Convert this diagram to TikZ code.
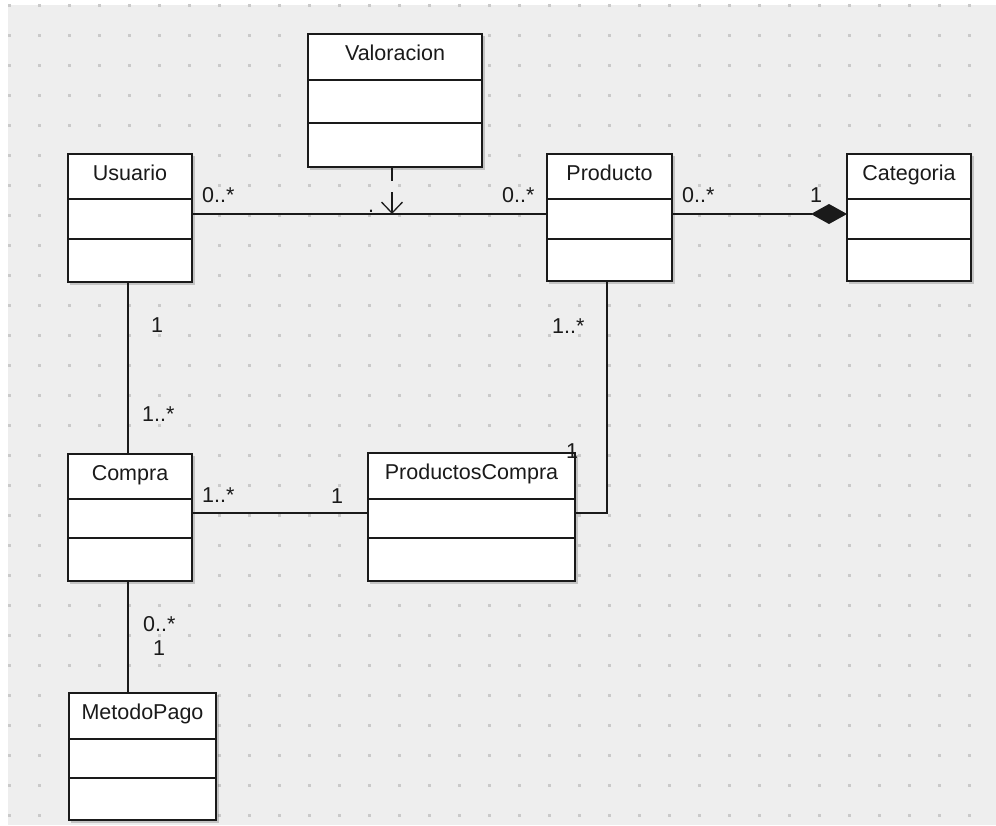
\documentclass[tikz,border=0pt]{standalone}
\usepackage{fontspec}
\setmainfont{Liberation Sans}
\usetikzlibrary{arrows.meta,calc}

\definecolor{canvas}{HTML}{EEEEEE}
\definecolor{griddot}{HTML}{CACACA}
\definecolor{ink}{HTML}{1A1A1A}

\tikzset{
  classbox/.style={draw=ink, line width=1.7pt, fill=white, inner sep=0pt, outer sep=0pt},
  divider/.style={draw=ink, line width=1.3pt},
  boxshadow/.style={fill=black, opacity=0.18},
  classtitle/.style={anchor=base, font=\fontsize{21.5}{25}\selectfont, text=ink, inner sep=0pt},
  mult/.style={anchor=base west, font=\fontsize{21.5}{25}\selectfont, text=ink, inner sep=0pt},
  assoc/.style={draw=ink, line width=1.3pt},
  depend/.style={draw=ink, line width=1.3pt, dash pattern=on 14pt off 11pt on 60pt,
    -{Straight Barb[length=11pt,width=21pt,line width=1.3pt]}},
  compose/.style={assoc, -{Diamond[length=36pt,width=20pt,fill=ink]}},
}

% UML class box: name, left, top, right, bottom, first divider, second divider, title
\newcommand\umlclass[8]{%
  \fill[boxshadow] (#2+2,#3+2) rectangle (#4+2.5,#5+2.5);
  \node[classbox, minimum width={(#4-#2)*1pt}, minimum height={(#5-#3)*1pt}]
    (#1) at ({(#2+#4)/2},{(#3+#5)/2}) {};
  \draw[divider] (#2,#6) -- (#4,#6) (#2,#7) -- (#4,#7);
  \node[classtitle] (#1-title) at ({(#2+#4)/2},{#3+26}) {#8};
}

\begin{document}
\begin{tikzpicture}[x=1pt,y=-1pt]
  \useasboundingbox (0,0) rectangle (996,825);
  \fill[white] (0,0) rectangle (996,825);
  \fill[canvas] (8,5) rectangle (996,825);

  % dotted drawing grid
  \foreach \i in {0,...,33} {
    \foreach \j in {0,...,27} {
      \fill[griddot] ({8+30*\i},{4+30*\j}) rectangle ++(2.5,2.5);
    }
  }

  % classes
  \umlclass{usuario}{68}{154}{192}{282}{199}{239}{Usuario}
  \umlclass{valoracion}{308}{34}{482}{167}{80}{123}{Valoracion}
  \umlclass{producto}{547}{154}{672}{281}{199}{239}{Producto}
  \umlclass{categoria}{847}{154}{971}{281}{199}{239}{Categoria}
  \umlclass{compra}{68}{454}{192}{581}{499}{538}{Compra}
  \umlclass{productoscompra}{368}{453}{575}{581}{499}{538}{ProductosCompra}
  \umlclass{metodopago}{69}{693}{216}{820}{739}{778}{MetodoPago}

  % associations
  \draw[assoc] ($(usuario.north east)+(0,60)$) -- ($(producto.north west)+(0,60)$);
  \coordinate (valtip) at (392,214);
  \draw[depend] ($(valoracion.south)+(-3,0)$) -- (valtip);
  \draw[compose] ($(producto.north east)+(0,60)$) -- ($(categoria.north west)+(0,60)$);
  \draw[assoc] ($(usuario.south west)+(60,0)$) -- ($(compra.north west)+(60,0)$);
  \draw[assoc] ($(compra.north east)+(0,59)$) -- ($(productoscompra.north west)+(0,60)$);
  \draw[assoc] ($(producto.south west)+(60,0)$) |- ($(productoscompra.north east)+(0,60)$);
  \draw[assoc] ($(compra.south west)+(60,0)$) -- ($(metodopago.north west)+(59,0)$);

  % multiplicities
  \node[mult] (m1) at (202,202) {0..*};
  \node[mult] (m2) at (502,202) {0..*};
  \node[mult] (m3) at (682,202) {0..*};
  \node[mult] (m4) at (810,202) {1};
  \node[mult] (m5) at (151,332) {1};
  \node[mult] (m6) at (142,421) {1..*};
  \node[mult] (m7) at (202,502) {1..*};
  \node[mult] (m8) at (331,503) {1};
  \node[mult] (m9) at (552,333) {1..*};
  \node[mult] (m10) at (566,458) {1};
  \node[mult] (m11) at (143,631) {0..*};
  \node[mult] (m12) at (153,655) {1};
  \node[mult] (dotmark) at (368,212) {.};
\end{tikzpicture}
\end{document}
